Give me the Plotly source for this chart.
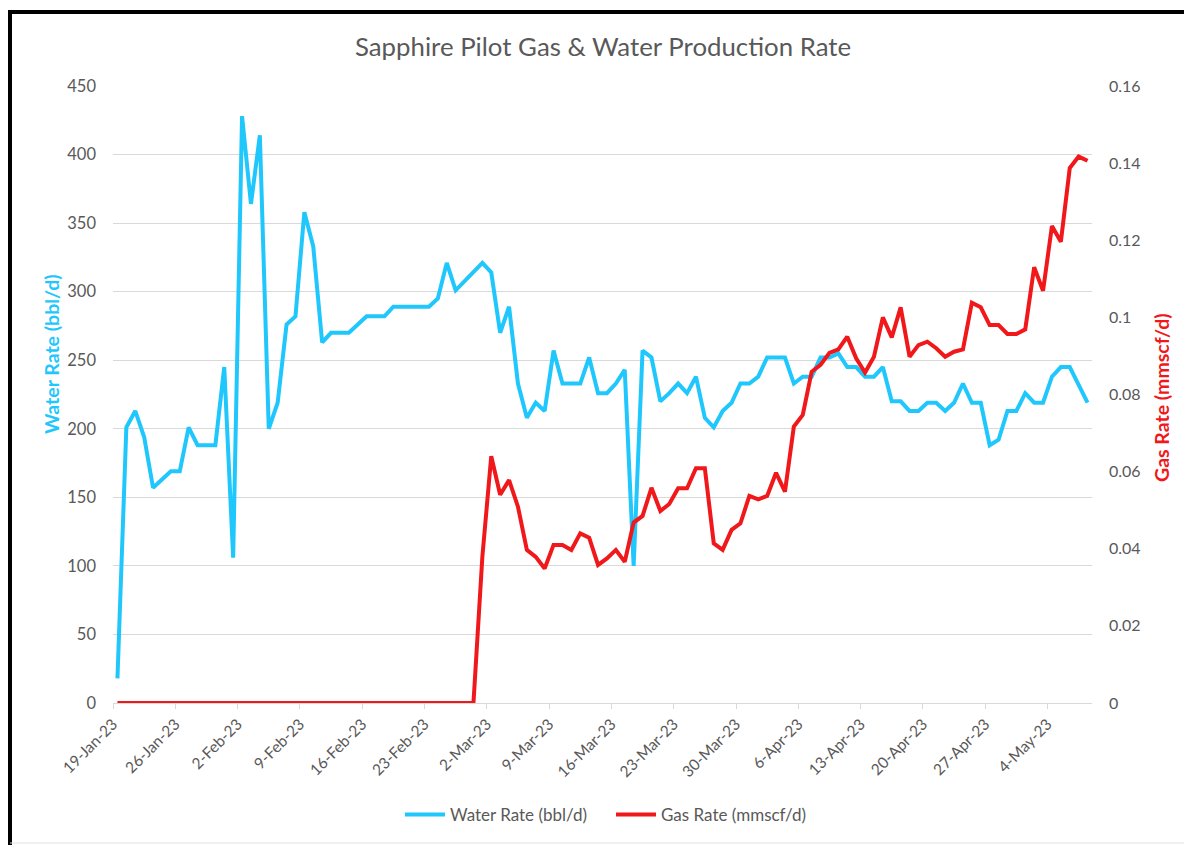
import pandas as pd
import plotly.graph_objects as go

# Daily readings, 19-Jan-23 to 8-May-23 (timestamped mid-day)
dates = pd.date_range("2023-01-19 12:00", periods=110, freq="D")

water_rate = [
    18, 201, 213, 194, 157, 163, 169, 169, 201, 188,
    188, 188, 245, 106, 428, 364, 414, 200, 219, 276,
    282, 358, 333, 263, 270, 270, 270, 276, 282, 282,
    282, 289, 289, 289, 289, 289, 295, 321, 301, 308,
    314, 321, 314, 270, 289, 233, 208, 219, 213, 257,
    233, 233, 233, 252, 226, 226, 233, 243, 100, 257,
    252, 220, 226, 233, 226, 238, 208, 201, 213, 219,
    233, 233, 238, 252, 252, 252, 233, 238, 238, 252,
    252, 255, 245, 245, 238, 238, 245, 220, 220, 213,
    213, 219, 219, 213, 219, 233, 219, 219, 188, 192,
    213, 213, 226, 219, 219, 238, 245, 245, 232, 219,
]

gas_rate = [0.0] * 41 + [
    0.0379, 0.064, 0.054, 0.0578, 0.0509, 0.0397, 0.0379, 0.0349, 0.041,
    0.041, 0.0397, 0.044, 0.0429, 0.0358, 0.0375, 0.0397, 0.0366, 0.0468, 0.0485,
    0.0558, 0.0498, 0.0516, 0.0557, 0.0557, 0.0609, 0.0609, 0.0414, 0.0397, 0.0449,
    0.0466, 0.0537, 0.0528, 0.0537, 0.0597, 0.0548, 0.0717, 0.0747, 0.0859, 0.0877,
    0.0908, 0.0917, 0.095, 0.0894, 0.0857, 0.0898, 0.100, 0.0948, 0.1026, 0.0898,
    0.0928, 0.0937, 0.092, 0.0898, 0.0911, 0.0917, 0.1038, 0.1026, 0.098, 0.098,
    0.0957, 0.0957, 0.0969, 0.113, 0.1069, 0.1237, 0.1196, 0.1387, 0.1417, 0.1406,
]

WATER = "#1FC7FD"
GAS = "#F0181A"
TXT = "#595959"
GRID = "#D9D9D9"
FONT = "Lato, 'Open Sans', sans-serif"

# figure sits at (8, 8) in the page because of the default body margin
W, H = 1184, 837
ML, MR, MT, MB = 105, 100, 78, 142
PW, PH = W - ML - MR, H - MT - MB


def px(x_abs):
    return (x_abs - 8 - ML) / PW


def py(y_abs):
    return (H - MB - (y_abs - 8)) / PH


fig = go.Figure()
fig.add_trace(go.Scatter(x=dates, y=water_rate, name="Water Rate (bbl/d)",
                         mode="lines", line=dict(color=WATER, width=4), legend="legend"))
fig.add_trace(go.Scatter(x=dates, y=gas_rate, name="Gas Rate (mmscf/d)",
                         mode="lines", line=dict(color=GAS, width=4), yaxis="y2",
                         legend="legend2"))

legend_common = dict(orientation="h", xanchor="left", yanchor="middle",
                     font=dict(size=17, color=TXT, family=FONT), itemwidth=40,
                     bgcolor="rgba(0,0,0,0)", borderwidth=0)

fig.update_layout(
    width=W, height=H,
    margin=dict(l=ML, r=MR, t=MT, b=MB, autoexpand=False),
    paper_bgcolor="white", plot_bgcolor="white",
    font=dict(family=FONT, color=TXT, size=16),
    title=dict(text="Sapphire Pilot Gas & Water Production Rate",
               x=px(605), xanchor="center", y=py(47) * PH / H + MB / H, yanchor="middle",
               font=dict(size=25.8, color=TXT, family=FONT)),
    xaxis=dict(type="date", range=["2023-01-19", "2023-05-09"],
               tick0="2023-01-19", dtick=7 * 86400000, tickformat="%-d-%b-%y",
               tickangle=-45, showgrid=False, showline=True, linecolor=GRID,
               linewidth=1, ticks="outside", ticklen=5, tickcolor=GRID,
               tickfont=dict(size=15.5, color=TXT), zeroline=False),
    yaxis=dict(range=[0, 450], dtick=50, showgrid=True, gridcolor=GRID,
               zeroline=False, showline=False, tickfont=dict(size=16.5, color=TXT),
               ticklabelstandoff=16),
    yaxis2=dict(range=[0, 0.16], dtick=0.02, overlaying="y", side="right",
                showgrid=False, zeroline=False, showline=False,
                tickfont=dict(size=16, color=TXT), ticklabelstandoff=16),
    legend=dict(x=px(400), y=py(815), **legend_common),
    legend2=dict(x=px(611), y=py(815), **legend_common),
    showlegend=True,
)

# Axis titles
fig.add_annotation(text="<b>Water Rate (bbl/d)</b>", xref="paper", yref="paper",
                   x=px(51), y=py(354), xanchor="center", yanchor="middle",
                   textangle=-90, showarrow=False,
                   font=dict(size=19.5, color=WATER, family=FONT))
fig.add_annotation(text="<b>Gas Rate (mmscf/d)</b>", xref="paper", yref="paper",
                   x=px(1162), y=py(398), xanchor="center", yanchor="middle",
                   textangle=-90, showarrow=False,
                   font=dict(size=19.5, color=GAS, family=FONT))

# Chart-area frame (thick black at left and top, light at bottom)
fig.add_shape(type="line", xref="paper", yref="paper", x0=px(10), x1=px(10),
              y0=py(850), y1=py(10), line=dict(color="black", width=4))
fig.add_shape(type="line", xref="paper", yref="paper", x0=px(10), x1=px(1200),
              y0=py(12), y1=py(12), line=dict(color="black", width=4))
fig.add_shape(type="line", xref="paper", yref="paper", x0=px(10), x1=px(1200),
              y0=py(843), y1=py(843), line=dict(color="#E0E0E0", width=1))

fig.write_html("out.html")
